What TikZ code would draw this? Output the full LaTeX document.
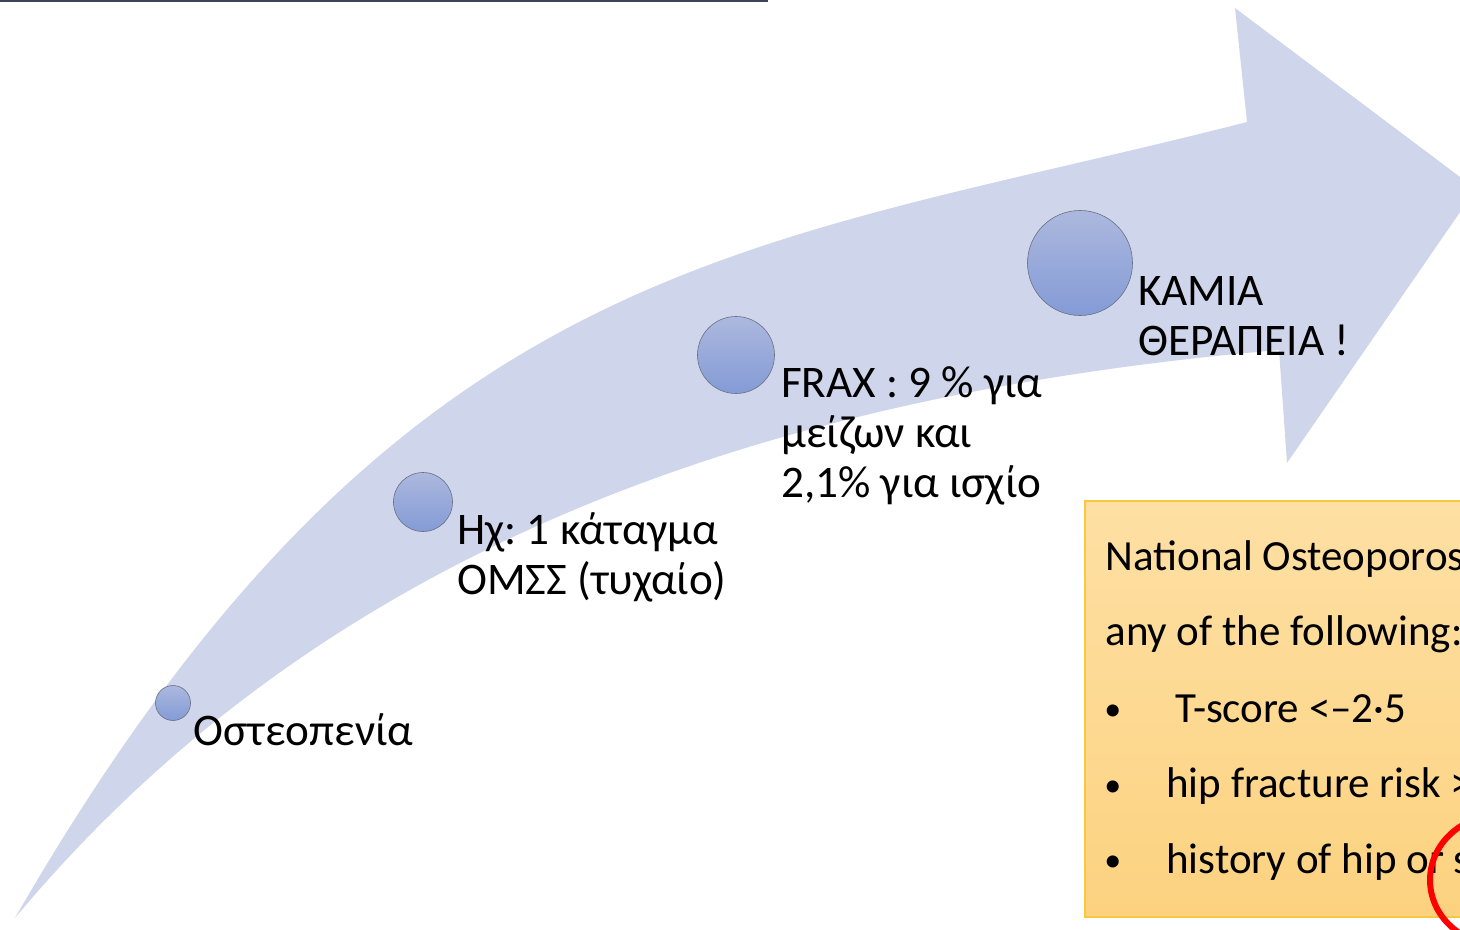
\documentclass[tikz,border=0pt]{standalone}
\usepackage{fontspec}
\setmainfont{Carlito}
\usepackage{tikz}
\usetikzlibrary{positioning,calc}
\definecolor{arrowfill}{RGB}{207,213,234}
\definecolor{dottop}{RGB}{172,184,222}
\definecolor{dotbottom}{RGB}{132,155,214}
\definecolor{dotedge}{RGB}{105,112,130}
\definecolor{boxtop}{RGB}{254,224,164}
\definecolor{boxbottom}{RGB}{252,210,128}
\definecolor{boxedge}{RGB}{250,200,60}
\definecolor{topline}{RGB}{58,67,87}
\frenchspacing
\tikzset{
  stage/.style={circle,draw=dotedge,line width=0.3pt,top color=dottop,bottom color=dotbottom,inner sep=0pt},
  steptext/.style={anchor=north west,inner sep=0pt,align=left,font=\fontsize{22.6}{25}\selectfont},
  nofline/.style={anchor=base west,inner sep=0pt,font=\fontsize{21.5}{38}\selectfont},
  nofbullet/.style={anchor=base west,inner sep=0pt,font=\fontsize{17}{38}\selectfont},
}

\begin{document}
\begin{tikzpicture}[x=0.5pt,y=-0.5pt]
		\useasboundingbox (0,0) rectangle (1460,930);
		\clip (0,0) rectangle (1460,930);
		\draw[topline,line width=1.5pt] (0,1) -- (768,1);
		\fill[arrowfill] (15,918) .. controls (400,250) and (747,250) .. (1247,122) -- (1235,8) -- (1476,189) -- (1287,463) -- (1279,350) .. controls (779,393) and (330,540) .. (15,918) -- cycle;
		\node[stage,minimum size=17.5pt] (s1) at (173,703) {};
		\node[stage,minimum size=29.5pt] (s2) at (423,502) {};
		\node[stage,minimum size=38.5pt] (s3) at (736,355) {};
		\node[stage,minimum size=52.5pt] (s4) at (1080,263) {};
		\node[steptext,xshift=1pt,yshift=-3.5pt] (t1) at (s1.east) {\strut Οστεοπενία};
		\node[steptext,xshift=2pt,yshift=-3.5pt] (t2) at (s2.east) {\strut Ηχ: 1 κάταγμα\\ΟΜΣΣ (τυχαίο)};
		\node[steptext,xshift=3pt,yshift=-3.5pt] (t3) at (s3.east) {\strut FRAX : 9 \% για\\μείζων και\\2,1\% για ισχίο};
		\node[steptext,xshift=2.5pt,yshift=-3.5pt] (t4) at (s4.east) {\strut ΚΑΜΙΑ\\ΘΕΡΑΠΕΊΑ !};
		\draw[boxedge,line width=0.8pt,top color=boxtop,bottom color=boxbottom] (1085,501) rectangle (1480,917);
		\node[nofline] (n1) at (1105,570) {National Osteoporosi};
		\node[nofline] (n2) at (1105,645) {any of the following:};
		\node[nofbullet] (b1) at (1104,720) {•};
		\node[nofline] (l1) at (1175,722) {T-score <–2·5};
		\node[nofbullet] (b2) at (1104,796) {•};
		\node[nofline] (l2) at (1166,797) {hip fracture risk >};
		\node[nofbullet] (b3) at (1104,871) {•};
		\node[nofline] (l3) at (1166,873) {history of hip or s};
		\draw[red,line width=3pt] (1500,880) ellipse [x radius=70,y radius=65];
	\end{tikzpicture}
\end{document}
